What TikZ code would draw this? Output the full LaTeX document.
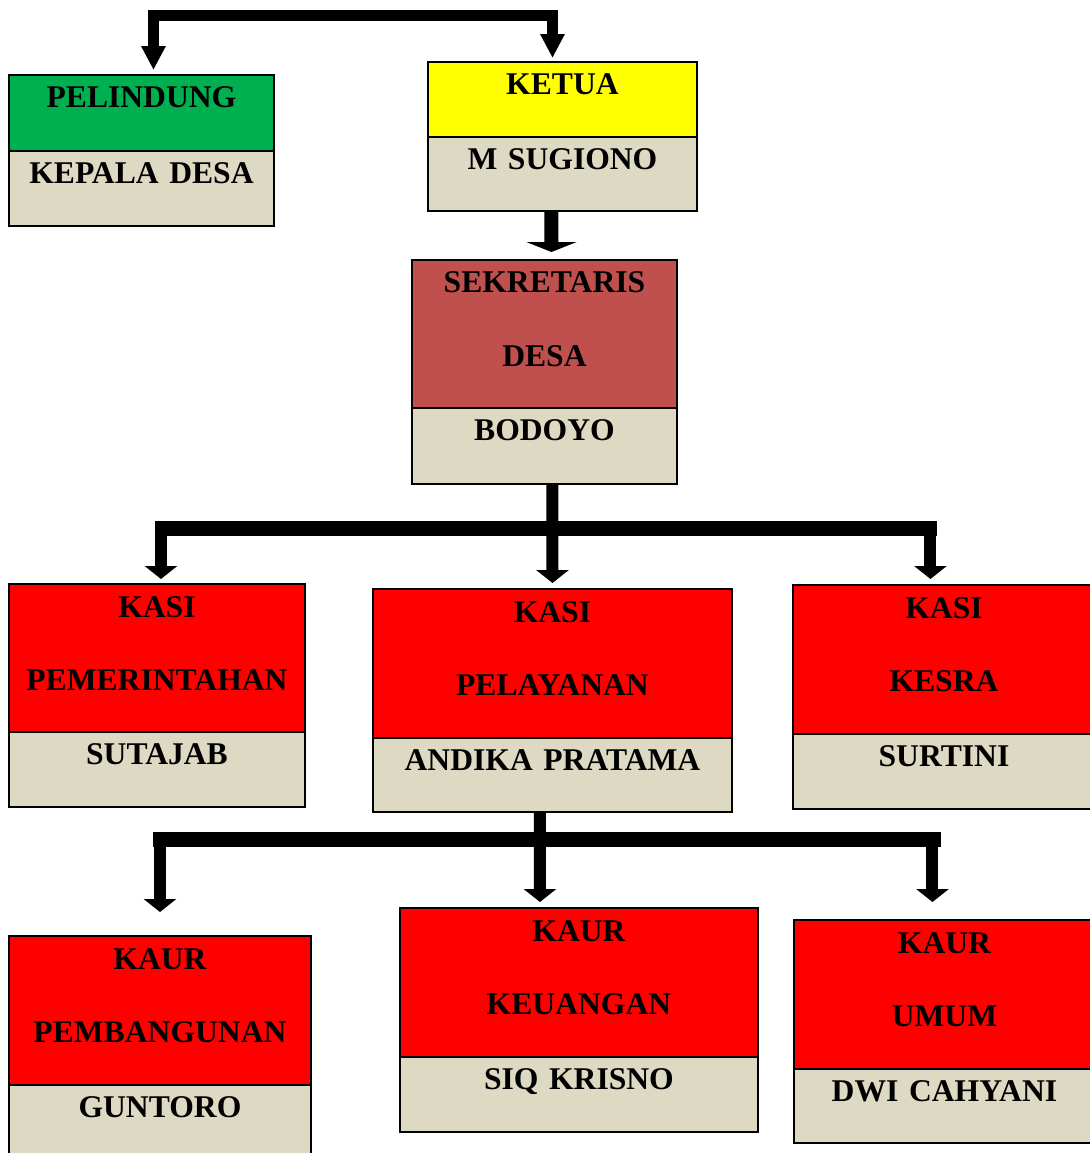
\documentclass[tikz,border=0pt]{standalone}
\usepackage{fontspec}
\setmainfont{Liberation Serif}
\usepackage{tikz}
\usetikzlibrary{arrows.meta,calc,positioning}
\definecolor{hijau}{HTML}{00B050}
\definecolor{kuning}{HTML}{FFFF00}
\definecolor{coklat}{HTML}{C0504D}
\definecolor{merah}{HTML}{FF0000}
\definecolor{krem}{HTML}{DDD9C3}
\tikzset{%
	bagian/.style     = {draw=black, line width=1.5pt, inner sep=0pt, outer sep=0pt, align=center, text height=0.66cm, font=\fontsize{18pt}{41.6pt}\selectfont\bfseries},
	panah/.style      = {line width=0.24cm, -{Triangle[width=0.64cm,length=0.26cm]}},
	panah atas/.style = {line width=0.22cm, -{Triangle[width=0.46cm,length=0.48cm]}},
	panah lebar/.style= {line width=0.28cm, -{Triangle[width=1.0cm,length=0.2cm]}},
	batang/.style     = {line width=0.3cm},
}
\begin{document}
\begin{tikzpicture}[x=0.02cm,y=-0.02cm]
	\useasboundingbox (0,0) rectangle (1089,1153);
	% pelindung dan ketua
	\node[bagian, fill=hijau, text width=5.30cm, text depth=0.86cm, anchor=north west] (pelindung) at (9,75) {PELINDUNG};
	\node[bagian, fill=krem, text width=5.30cm, text depth=0.84cm, below=0pt of pelindung] (pelindung-nama) {KEPALA DESA};
	\node[bagian, fill=kuning, text width=5.38cm, text depth=0.84cm, anchor=north west] (ketua) at (428,62) {KETUA};
	\node[bagian, fill=krem, text width=5.38cm, text depth=0.82cm, below=0pt of ketua] (ketua-nama) {M SUGIONO};
	% sekretaris
	\node[bagian, fill=coklat, text width=5.30cm, text depth=2.30cm, anchor=north west] (sekdes) at (412,260) {SEKRETARIS\\DESA};
	\node[bagian, fill=krem, text width=5.30cm, text depth=0.86cm, below=0pt of sekdes] (sekdes-nama) {BODOYO};
	% kasi
	\node[bagian, fill=merah, text width=5.92cm, text depth=2.30cm, anchor=north west] (pemerintahan) at (9,584) {KASI\\PEMERINTAHAN};
	\node[bagian, fill=krem, text width=5.92cm, text depth=0.84cm, below=0pt of pemerintahan] (pemerintahan-nama) {SUTAJAB};
	\node[bagian, fill=merah, text width=7.18cm, text depth=2.32cm, anchor=north west] (pelayanan) at (373,589) {KASI\\PELAYANAN};
	\node[bagian, fill=krem, text width=7.18cm, text depth=0.82cm, below=0pt of pelayanan] (pelayanan-nama) {ANDIKA PRATAMA};
	\node[bagian, fill=merah, text width=6.04cm, text depth=2.32cm, anchor=north west] (kesra) at (793,585) {KASI\\KESRA};
	\node[bagian, fill=krem, text width=6.04cm, text depth=0.84cm, below=0pt of kesra] (kesra-nama) {SURTINI};
	% kaur
	\node[bagian, fill=merah, text width=6.04cm, text depth=2.32cm, anchor=north west] (pembangunan) at (9,936) {KAUR\\PEMBANGUNAN};
	\node[bagian, fill=krem, text width=6.04cm, text depth=0.84cm, below=0pt of pembangunan] (pembangunan-nama) {GUNTORO};
	\node[bagian, fill=merah, text width=7.16cm, text depth=2.32cm, anchor=north west] (keuangan) at (400,908) {KAUR\\KEUANGAN};
	\node[bagian, fill=krem, text width=7.16cm, text depth=0.84cm, below=0pt of keuangan] (keuangan-nama) {SIQ KRISNO};
	\node[bagian, fill=merah, text width=6.02cm, text depth=2.32cm, anchor=north west] (umum) at (794,920) {KAUR\\UMUM};
	\node[bagian, fill=krem, text width=6.02cm, text depth=0.82cm, below=0pt of umum] (umum-nama) {DWI CAHYANI};
	
	% garis atas
	\coordinate (puncak) at (352,15);
	\draw[panah atas] (puncak) -| ($(pelindung.north)+(12,-5)$);
	\draw[panah atas] (puncak) -| ($(ketua.north)+(-10,-4)$);
	\draw[panah lebar] ($(ketua-nama.south)+(-11,0)$) -- ($(sekdes.north)+(7,-8)$);
	
	% ke kasi
	\coordinate (cabang1) at ($(sekdes-nama.south)+(8,45)$);
	\draw[batang] ($(pemerintahan.north |- cabang1)+(-2,0)$) -- ($(kesra.north |- cabang1)+(-7,0)$);
	\draw[panah] ($(pemerintahan.north |- cabang1)+(4,0)$) -- ($(pemerintahan.north)+(4,-5)$);
	\draw[panah] ($(sekdes-nama.south)+(8,0)$) -- ($(pelayanan.north)+(0,-6)$);
	\draw[panah] ($(kesra.north |- cabang1)+(-13.5,0)$) -- ($(kesra.north)+(-13.5,-6)$);
	
	% ke kaur
	\coordinate (cabang2) at ($(pelayanan-nama.south)+(-12.5,28)$);
	\draw[batang] ($(pembangunan.north |- cabang2)+(-7,0)$) -- ($(umum.north |- cabang2)+(-3.5,0)$);
	\draw[panah] (pembangunan.north |- cabang2) -- ($(pembangunan.north)+(0,-24)$);
	\draw[panah] ($(pelayanan-nama.south)+(-12.5,0)$) -- ($(keuangan.north)+(-39,-6)$);
	\draw[panah] ($(umum.north |- cabang2)+(-12,0)$) -- ($(umum.north)+(-12,-18)$);
\end{tikzpicture}
\end{document}
